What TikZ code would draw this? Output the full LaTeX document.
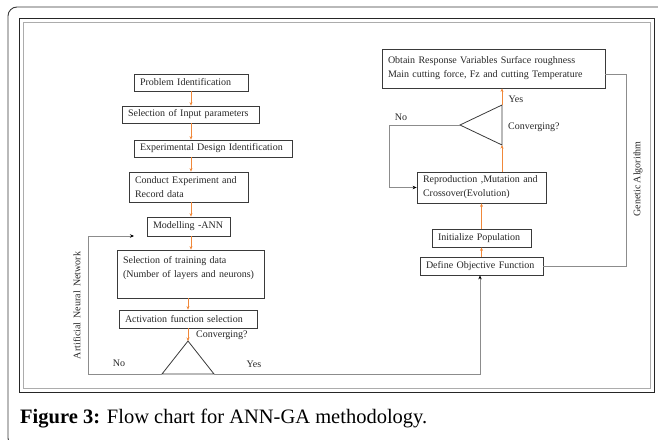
\documentclass[tikz,border=0pt]{standalone}
\usepackage{fontspec}
\setmainfont{Liberation Serif}
\usetikzlibrary{arrows.meta,calc}
\definecolor{orangeln}{HTML}{F0883A}
\definecolor{boxln}{HTML}{3A3A3A}
\definecolor{grayln}{HTML}{8C8C8C}
\begin{document}
\begin{tikzpicture}[x=1pt,y=-1pt,
  txt/.style={font=\fontsize{10}{14}\selectfont, text=black!85},
  box/.style={txt, draw=boxln, line width=0.8pt, inner xsep=6pt, inner ysep=0pt, align=left},
  oarr/.style={draw=orangeln, line width=0.6pt, -{Stealth[length=3.5pt,width=3pt]}},
  garr/.style={draw=grayln, line width=0.8pt, -{Stealth[length=4pt,width=3.5pt,color=black]}},
  gline/.style={draw=grayln, line width=0.8pt},
  tri/.style={draw=boxln, line width=0.8pt},
  lbl/.style={txt, inner sep=0pt}]
\useasboundingbox (0,0) rectangle (658,439);
% frames
\draw[boxln, line width=0.9pt, rounded corners=9pt] (8,7) rectangle (668,447);
\draw[black!85, line width=1pt] (19,18) rectangle (654,392);
\draw[gray!65, line width=0.8pt] (23,22) rectangle (650,388);
% left column
\node[box, text width=102pt, minimum height=17pt] (P1) at (191,82.5) {\mbox{Problem Identification}};
\node[box, text width=125pt, minimum height=17pt] (P2) at (190.5,114.5) {\mbox{Selection of Input parameters}};
\node[box, text width=146pt, minimum height=17pt] (P3) at (213,148.5) {\mbox{Experimental Design Identification}};
\node[box, text width=107pt, minimum height=30pt] (P4) at (188.5,187) {\mbox{Conduct Experiment and}\\\mbox{Record data}};
\node[box, text width=71pt, minimum height=19pt] (P5) at (188.5,226.5) {\mbox{Modelling -ANN}};
\node[box, text width=135pt, minimum height=48pt] (P6) at (190.5,274) {\mbox{Selection of training data}\\\mbox{(Number of layers and neurons)}\\\mbox{}};
\node[box, text width=126pt, minimum height=18pt] (P7) at (188,319) {\mbox{Activation function selection}};
\coordinate (t1a) at (188,341);
\coordinate (t1l) at (162,374);
\coordinate (t1r) at (214,374);
\draw[tri] (t1a) -- (t1l) -- (t1r) -- cycle;
% right column
\node[box, text width=211pt, minimum height=39pt] (G1) at (493.5,68.5) {\mbox{Obtain Response Variables Surface roughness}\\\mbox{Main cutting force, Fz and cutting Temperature}};
\node[box, text width=117pt, minimum height=31pt] (G2) at (481.5,187.5) {\mbox{Reproduction ,Mutation and}\\\mbox{Crossover(Evolution)}};
\node[box, text width=87pt, minimum height=18pt] (G3) at (481.5,238) {\mbox{Initialize Population}};
\node[box, text width=111pt, minimum height=18pt] (G4) at (481.5,266) {\mbox{Define Objective Function}};
\coordinate (t2a) at (460,125);
\coordinate (t2t) at (502,105);
\coordinate (t2b) at (502,145);
\draw[tri] (t2a) -- (t2t) -- (t2b) -- cycle;
% helper coordinates
\coordinate (ax) at (191,0);
\coordinate (bx) at (188,0);
\coordinate (gaY) at (0,74);
\coordinate (annL) at (88,374);
\coordinate (annT) at (88,236);
\coordinate (m5in) at (134,236);
\coordinate (noL) at (389,125);
\coordinate (gaR) at (626,74);
\coordinate (yesX) at (480,0);
% orange flow arrows
\draw[oarr] (ax |- P1.south) -- (ax |- P2.north);
\draw[oarr] (ax |- P2.south) -- (ax |- P3.north);
\draw[oarr] (ax |- P3.south) -- (ax |- P4.north);
\draw[oarr] (ax |- P4.south) -- (ax |- P5.north);
\draw[oarr] (ax |- P5.south) -- (ax |- P6.north);
\draw[oarr] (bx |- P6.south) -- (bx |- P7.north);
\draw[oarr] (bx |- P7.south) -- (t1a);
\draw[oarr] (G4.north) -- (G3.south);
\draw[oarr] (G3.north) -- (G2.south);
\draw[oarr] (t2b |- G2.north) -- (t2b);
\draw[oarr] (t2t) -- (t2t |- G1.south);
% gray connectors
\draw[garr] (t1l) -- (annL) -- (annT) -- (m5in);
\draw[garr] (t1r) -- (yesX |- t1r) -- (yesX |- G4.south);
\draw[garr] (t2a) -- (noL) |- (G2.west);
\draw[gline] (G1.east |- gaY) -- (gaR) |- (G4.east);
% labels
\node[lbl, anchor=west] (c1) at (196,335) {Converging?};
\node[lbl] (no1) at (119,363) {No};
\node[lbl] (yes1) at (254,364) {Yes};
\node[lbl, anchor=west] (c2) at (508,127) {Converging?};
\node[lbl] (no2) at (401,117) {No};
\node[lbl] (yes2) at (516,99) {Yes};
\node[lbl, rotate=90] (ann) at (77,305.5) {Artificial\, Neural\, Network};
\node[lbl, rotate=90] (ga) at (638,179) {Genetic Algorithm};
% caption
\node[anchor=base west, inner sep=0pt, font=\fontsize{20.5}{24}\selectfont] (cap) at (20,423) {\textbf{Figure 3:} Flow chart for ANN-GA methodology.};
\end{tikzpicture}
\end{document}
